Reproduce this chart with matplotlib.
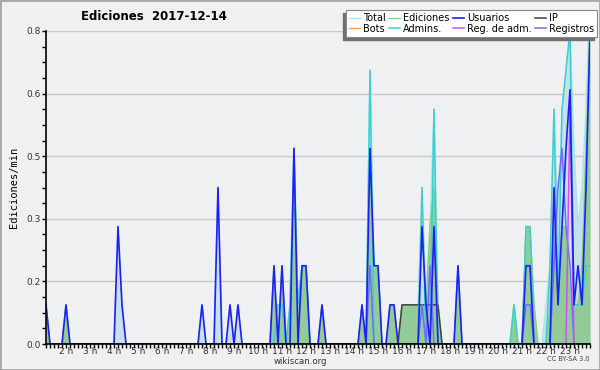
import numpy as np
import matplotlib
matplotlib.use('Agg')
import matplotlib.pyplot as plt
from matplotlib.patches import Rectangle
from matplotlib.ticker import MultipleLocator, FixedLocator

# 10 minute bins, first bin at 1:10
start_hour = 7 / 6
hour_ticks = list(range(2, 24))
hour_labels = ['%d h' % h for h in hour_ticks]

# edits per minute, one value per 10 minute bin (137 bins)
total = [
    0.1, 0, 0, 0, 0, 0.1, 0, 0, 0, 0, 0, 0, 0, 0, 0, 0, 0, 0, 0.3, 0.1,
    0, 0, 0, 0, 0, 0, 0, 0, 0, 0, 0, 0, 0, 0, 0, 0, 0, 0, 0, 0.1,
    0, 0, 0, 0.4, 0, 0, 0.1, 0, 0.1, 0, 0, 0, 0, 0, 0, 0, 0, 0.2, 0, 0.2,
    0, 0.1, 0.5, 0.1, 0.2, 0.2, 0, 0, 0, 0.1, 0, 0, 0, 0, 0, 0, 0, 0, 0, 0.1,
    0, 0.7, 0.2, 0.2, 0, 0, 0.1, 0.1, 0, 0.1, 0.1, 0.1, 0.1, 0.1, 0.4, 0.1, 0.3, 0.6, 0.1, 0,
    0, 0, 0, 0.2, 0, 0, 0, 0, 0, 0, 0, 0, 0, 0, 0, 0, 0, 0.1, 0, 0,
    0.3, 0.3, 0.1, 0, 0, 0.1, 0.2, 0.6, 0.3, 0.6, 0.7, 0.8, 0.5, 0.3, 0.4, 0.6, 0.9,
]
ediciones = [
    0.1, 0, 0, 0, 0, 0.1, 0, 0, 0, 0, 0, 0, 0, 0, 0, 0, 0, 0, 0, 0,
    0, 0, 0, 0, 0, 0, 0, 0, 0, 0, 0, 0, 0, 0, 0, 0, 0, 0, 0, 0,
    0, 0, 0, 0, 0, 0, 0, 0, 0, 0, 0, 0, 0, 0, 0, 0, 0, 0.2, 0, 0.2,
    0, 0.1, 0.4, 0.1, 0.2, 0.2, 0, 0, 0, 0.1, 0, 0, 0, 0, 0, 0, 0, 0, 0, 0.1,
    0, 0.5, 0.2, 0.2, 0, 0, 0.1, 0.1, 0, 0.1, 0.1, 0.1, 0.1, 0.1, 0.1, 0.1, 0.3, 0.4, 0.1, 0,
    0, 0, 0, 0.2, 0, 0, 0, 0, 0, 0, 0, 0, 0, 0, 0, 0, 0, 0.1, 0, 0,
    0.3, 0.3, 0.1, 0, 0, 0, 0.1, 0.3, 0.1, 0.3, 0.3, 0.1, 0.1, 0.1, 0.2, 0.5, 0.8,
]
usuarios = [
    0.1, 0, 0, 0, 0, 0.1, 0, 0, 0, 0, 0, 0, 0, 0, 0, 0, 0, 0, 0.3, 0.1,
    0, 0, 0, 0, 0, 0, 0, 0, 0, 0, 0, 0, 0, 0, 0, 0, 0, 0, 0, 0.1,
    0, 0, 0, 0.4, 0, 0, 0.1, 0, 0.1, 0, 0, 0, 0, 0, 0, 0, 0, 0.2, 0, 0.2,
    0, 0, 0.5, 0, 0.2, 0.2, 0, 0, 0, 0.1, 0, 0, 0, 0, 0, 0, 0, 0, 0, 0.1,
    0, 0.5, 0.2, 0.2, 0, 0, 0.1, 0.1, 0, 0, 0, 0, 0, 0, 0.3, 0.1, 0, 0.3, 0, 0,
    0, 0, 0, 0.2, 0, 0, 0, 0, 0, 0, 0, 0, 0, 0, 0, 0, 0, 0, 0, 0,
    0.2, 0.2, 0, 0, 0, 0, 0, 0.4, 0.1, 0.3, 0.5, 0.65, 0.1, 0.2, 0.1, 0.4, 0.8,
]
ip = [0] * 89 + [0.1] * 10 + [0] * 38
admins = [
    0, 0, 0, 0, 0, 0, 0, 0, 0, 0, 0, 0, 0, 0, 0, 0, 0, 0, 0, 0,
    0, 0, 0, 0, 0, 0, 0, 0, 0, 0, 0, 0, 0, 0, 0, 0, 0, 0, 0, 0,
    0, 0, 0, 0, 0, 0, 0, 0, 0, 0, 0, 0, 0, 0, 0, 0, 0, 0, 0.1, 0.1,
    0, 0.1, 0.5, 0.1, 0.2, 0.2, 0, 0, 0, 0, 0, 0, 0, 0, 0, 0, 0, 0, 0, 0,
    0, 0.7, 0, 0, 0, 0, 0, 0, 0, 0, 0, 0, 0, 0, 0.4, 0, 0, 0.6, 0, 0,
    0, 0, 0, 0, 0, 0, 0, 0, 0, 0, 0, 0, 0, 0, 0, 0, 0, 0.1, 0, 0,
    0.3, 0.3, 0, 0, 0, 0, 0.2, 0.6, 0.1, 0.6, 0.7, 0.8, 0.1, 0.1, 0.1, 0.2, 0.2,
]
reg_adm = [0] * 131 + [0.6] + [0] * 5
registros = [
    0, 0, 0, 0, 0, 0, 0, 0, 0, 0, 0, 0, 0, 0, 0, 0, 0, 0, 0, 0,
    0, 0, 0, 0, 0, 0, 0, 0, 0, 0, 0, 0, 0, 0, 0, 0, 0, 0, 0, 0,
    0, 0, 0, 0, 0, 0, 0, 0, 0, 0, 0, 0, 0, 0, 0, 0, 0, 0, 0, 0,
    0, 0, 0, 0, 0, 0, 0, 0, 0, 0, 0, 0, 0, 0, 0, 0, 0, 0, 0, 0,
    0, 0.2, 0, 0, 0, 0, 0, 0, 0, 0, 0, 0, 0, 0, 0.1, 0, 0.2, 0, 0, 0,
    0, 0, 0, 0, 0, 0, 0, 0, 0, 0, 0, 0, 0, 0, 0, 0, 0, 0, 0, 0,
    0.1, 0.1, 0, 0, 0, 0, 0, 0.2, 0.4, 0.5, 0.3, 0.2, 0, 0, 0, 0, 0,
]
bots = [0] * 137

hours = start_hour + np.arange(len(total)) / 6

plt.rcParams['font.family'] = ['DejaVu Sans']
fig = plt.figure(figsize=(6, 3.7), dpi=100, facecolor='#f0f0f0')
fig.add_artist(Rectangle((0, 0), 1, 1, transform=fig.transFigure, fill=False,
                         edgecolor='#a8a8a8', linewidth=2))
ax = fig.add_axes([46 / 600, 26 / 370, 544 / 600, 313 / 370], facecolor='#eef0f2')

ax.fill_between(hours, total, color='#c6e1ec', lw=0)
ax.fill_between(hours, ediciones, color='#93cb98', lw=0)
ax.plot(hours, total, color='#a6e6e6', lw=1, label='Total')
ax.plot(hours, ediciones, color='#82cf88', lw=1, label='Ediciones')
ax.plot(hours, bots, color='#ffa040', lw=1, label='Bots')
ax.plot(hours, ip, color='#404040', lw=1.1, label='IP')
ax.plot(hours, admins, color='#3ccfcf', lw=1.1, label='Admins.')
ax.plot(hours, registros, color='#6c6cff', lw=1.1, label='Registros')
ax.plot(hours, reg_adm, color='#d050f0', lw=1.1, label='Reg. de adm.')
ax.plot(hours, usuarios, color='#1e1ef5', lw=1.2, label='Usuarios')

ax.set_xlim(hours[0], hours[-1])
ax.set_ylim(0, 0.8)
ax.yaxis.set_major_locator(FixedLocator([0, 0.16, 0.32, 0.48, 0.64, 0.8]))
ax.yaxis.set_major_formatter(plt.FuncFormatter(lambda v, p: '%.1f' % v))
ax.yaxis.set_minor_locator(MultipleLocator(0.04))
ax.set_xticks(hour_ticks)
ax.set_xticklabels(hour_labels)
ax.xaxis.set_minor_locator(MultipleLocator(1 / 6))
ax.tick_params(axis='both', labelsize=6.5, labelcolor='#333333', direction='out',
               length=3, width=1, pad=1)
ax.tick_params(axis='x', pad=-1)
ax.tick_params(axis='both', which='minor', length=3, width=1)
ax.grid(axis='y', color='#c8c8c8', lw=1)
ax.set_axisbelow(True)
for s in ['top', 'right']:
    ax.spines[s].set_visible(False)
for s in ['left', 'bottom']:
    ax.spines[s].set_linewidth(1.2)

ax.set_ylabel('Ediciones/min', family='DejaVu Sans Mono', fontsize=7.5, labelpad=5)
fig.text(154 / 600, 1 - 16 / 370, 'Ediciones  2017-12-14', ha='center', va='center',
         fontsize=8.5, fontweight='bold')
fig.text(300 / 600, 1 - 362 / 370, 'wikiscan.org', ha='center', va='center',
         fontsize=6.2, color='#333333')
fig.text(590 / 600, 1 - 359 / 370, 'CC BY-SA 3.0', ha='right', va='center',
         fontsize=4.8, color='#444444')

# legend, filled row by row
h, l = ax.get_legend_handles_labels()
order = ['Total', 'Bots', 'Ediciones', 'Admins.', 'Usuarios', 'Reg. de adm.',
         'IP', 'Registros']
hd = dict(zip(l, h))
leg = fig.legend([hd[k] for k in order], order, ncol=4, loc='upper right',
                 bbox_to_anchor=(597 / 600, 1 - 10 / 370), fontsize=7.0,
                 frameon=True, fancybox=False, framealpha=1, edgecolor='#888888',
                 handlelength=1.1, handletextpad=0.3, columnspacing=0.4,
                 labelspacing=0.1, borderpad=0.3, borderaxespad=0)
leg.get_frame().set_linewidth(0.8)
leg.set_zorder(5)

fig.canvas.draw()
bb = leg.get_window_extent()
fig.add_artist(Rectangle(((bb.x0 - 3) / 600, (bb.y0 - 3) / 370), bb.width / 600,
                         bb.height / 370, transform=fig.transFigure,
                         color='#707070', zorder=4))

fig.savefig('out.png', dpi=100, facecolor=fig.get_facecolor())
